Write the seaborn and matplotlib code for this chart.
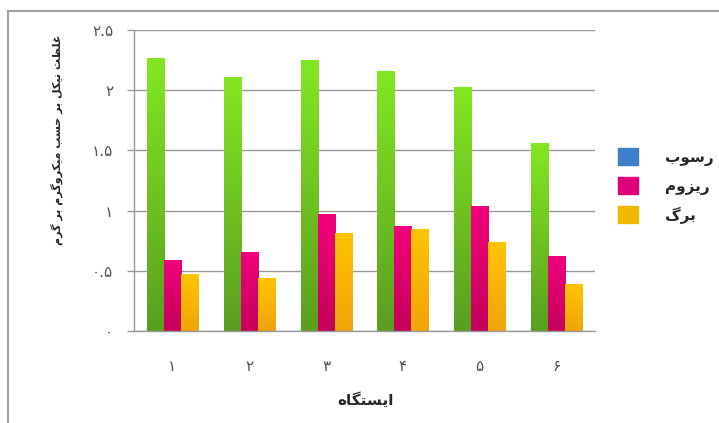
import numpy as np
import pandas as pd
import seaborn as sns
import matplotlib
matplotlib.use("Agg")
import matplotlib.pyplot as plt
from matplotlib.patches import Patch
from matplotlib.lines import Line2D
from matplotlib.colors import LinearSegmentedColormap

# ---- data -------------------------------------------------------------
stations = ["۱", "۲", "۳", "۴", "۵", "۶"]
sediment = [2.27, 2.11, 2.25, 2.16, 2.03, 1.56]   # رسوب
rhizome = [0.59, 0.66, 0.97, 0.87, 1.04, 0.62]    # ریزوم
leaf = [0.47, 0.44, 0.81, 0.85, 0.74, 0.39]       # برگ
series_names = ["رسوب", "ریزوم", "برگ"]
y_ticks = [0, 0.5, 1, 1.5, 2, 2.5]
y_tick_labels = ["۰", "۰.۵", "۱", "۱.۵", "۲", "۲.۵"]
x_title = "ایستگاه"
y_title = "غلظت نیکل بر حسب میکروگرم بر گرم"

# ---- minimal Persian shaping (presentation forms + visual order) -------
FORMS = {
    "ا": ("\uFE8D", "\uFE8E", None, None),
    "ب": ("\uFE8F", "\uFE90", "\uFE91", "\uFE92"),
    "ت": ("\uFE95", "\uFE96", "\uFE97", "\uFE98"),
    "ح": ("\uFEA1", "\uFEA2", "\uFEA3", "\uFEA4"),
    "ر": ("\uFEAD", "\uFEAE", None, None),
    "ز": ("\uFEAF", "\uFEB0", None, None),
    "س": ("\uFEB1", "\uFEB2", "\uFEB3", "\uFEB4"),
    "ظ": ("\uFEC5", "\uFEC6", "\uFEC7", "\uFEC8"),
    "غ": ("\uFECD", "\uFECE", "\uFECF", "\uFED0"),
    "ل": ("\uFEDD", "\uFEDE", "\uFEDF", "\uFEE0"),
    "م": ("\uFEE1", "\uFEE2", "\uFEE3", "\uFEE4"),
    "ن": ("\uFEE5", "\uFEE6", "\uFEE7", "\uFEE8"),
    "ه": ("\uFEE9", "\uFEEA", "\uFEEB", "\uFEEC"),
    "و": ("\uFEED", "\uFEEE", None, None),
    "ک": ("\uFB8E", "\uFB8F", "\uFB90", "\uFB91"),
    "گ": ("\uFB92", "\uFB93", "\uFB94", "\uFB95"),
    "ی": ("\uFBFC", "\uFBFD", "\uFBFE", "\uFBFF"),
}


def shape(text):
    out = []
    for i, c in enumerate(text):
        if c not in FORMS:
            out.append(c)
            continue
        prev = text[i - 1] if i > 0 else None
        nxt = text[i + 1] if i + 1 < len(text) else None
        iso, fin, ini, med = FORMS[c]
        join_prev = prev in FORMS and FORMS[prev][2] is not None
        join_next = nxt in FORMS and ini is not None
        if join_prev and join_next:
            out.append(med)
        elif join_prev:
            out.append(fin)
        elif join_next:
            out.append(ini)
        else:
            out.append(iso)
    return "".join(reversed(out))


# ---- figure -----------------------------------------------------------
sns.set_theme(style="white")
plt.rcParams["font.family"] = ["DejaVu Sans"]

W, H = 719, 423
fig = plt.figure(figsize=(W / 100, H / 100), dpi=100)
ax = fig.add_axes([134 / W, 1 - 331 / H, (595 - 134) / W, (331 - 30) / H])

df = pd.DataFrame({
    "station": stations * 3,
    "value": sediment + rhizome + leaf,
    "series": sum([[s] * len(stations) for s in series_names], []),
})

bar_colors = ["#6cc81e", "#e0006e", "#f8b400"]
sns.barplot(data=df, x="station", y="value", hue="series", order=stations,
            hue_order=series_names, palette=bar_colors, width=0.665, gap=0,
            saturation=1, ax=ax, legend=False, linewidth=0)

# vertical gradient fill for each bar
grads = [("#82e822", "#5a9e20"), ("#f2007c", "#c4005a"), ("#ffc400", "#f0a40a")]
grad_img = np.linspace(1, 0, 256).reshape(-1, 1)
for container, (top, bottom) in zip(ax.containers, grads):
    cmap = LinearSegmentedColormap.from_list("g", [bottom, top])
    for bar in container:
        x0, y0 = bar.get_x(), bar.get_y()
        w, h = bar.get_width(), bar.get_height()
        im = ax.imshow(grad_img, cmap=cmap, aspect="auto",
                       extent=(x0, x0 + w, y0, y0 + h), zorder=bar.get_zorder() + 0.1,
                       vmin=0, vmax=1)
        im.set_clip_path(bar)

ax.set_xlim(-0.5, len(stations) - 0.5)
ax.set_ylim(0, 2.5)
ax.set_yticks(y_ticks)
ax.set_yticklabels(y_tick_labels, fontsize=11, color="#555555")
ax.set_xticks(range(len(stations)))
ax.set_xticklabels(stations, fontsize=11, color="#555555")
ax.set_xticks(np.arange(-0.5, len(stations)), minor=True)
ax.tick_params(axis="x", which="major", length=0, pad=20)
ax.tick_params(axis="x", which="minor", length=5, color="#999999", width=1, direction="out")
ax.tick_params(axis="y", which="major", length=5, color="#999999", width=1,
               direction="out", pad=10, left=True)
ax.grid(axis="y", color="#999999", linewidth=1)
ax.set_axisbelow(True)
for side in ["top", "right"]:
    ax.spines[side].set_visible(False)
for side in ["left", "bottom"]:
    ax.spines[side].set_color("#999999")
    ax.spines[side].set_linewidth(1)
ax.set_xlabel("")
ax.set_ylabel("")

fig.text(365 / W, 1 - 400 / H, shape(x_title), ha="center", va="center",
         fontsize=11, fontweight="bold")
fig.text(57 / W, 1 - 140 / H, shape(y_title), ha="center", va="center",
         rotation=90, fontsize=8, fontweight="bold")

# legend (marker colours as drawn in the key)
key_colors = ["#3d7fc8", "#e2007a", "#f2b800"]
handles = [Patch(facecolor=c, edgecolor=c) for c in key_colors]
fig.legend(handles, [shape(s) for s in series_names], loc="center left",
           bbox_to_anchor=(604 / W, 1 - 186 / H), frameon=False, fontsize=11,
           handlelength=1.3, handleheight=1.3, handletextpad=1.8, labelspacing=0.75,
           prop={"size": 11, "weight": "bold"})

# outer frame lines
fig.add_artist(Line2D([8 / W, 1], [1 - 11 / H, 1 - 11 / H], color="#a0a0a0", lw=1.5))
fig.add_artist(Line2D([8 / W, 8 / W], [0, 1 - 11 / H], color="#a0a0a0", lw=1.5))

fig.savefig("out.png", dpi=100)
